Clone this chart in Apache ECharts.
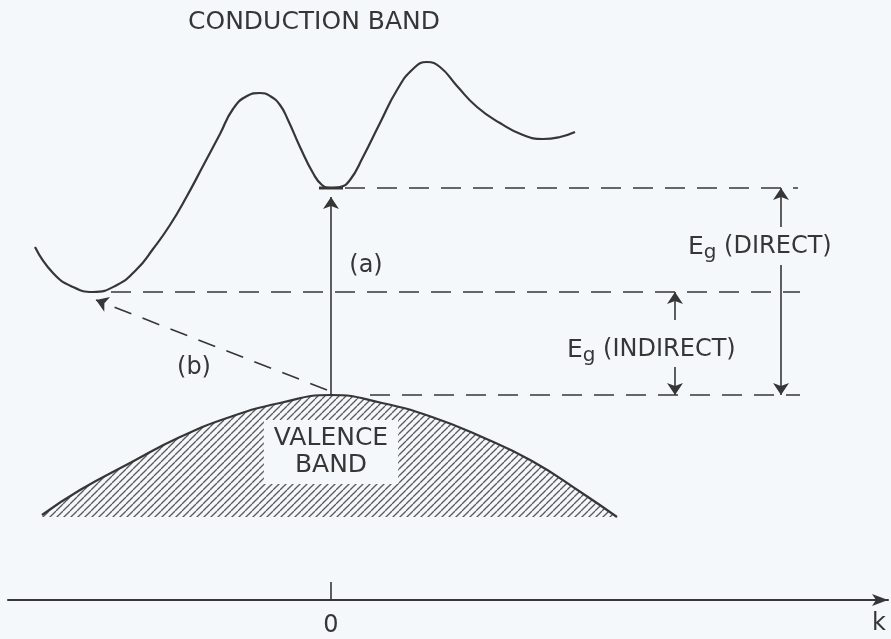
<!DOCTYPE html>
<html>
<head>
<meta charset="utf-8">
<script src="https://cdn.jsdelivr.net/npm/echarts@6/dist/echarts.min.js"></script>
<style>
  html, body { margin: 0; padding: 0; background: #f5f8fa; }
  #chart { width: 891px; height: 639px; }
</style>
</head>
<body>
<div id="chart"></div>
<script>
// Energy band diagram E(k): conduction band, valence band, direct / indirect gaps.

// Conduction band E(k)
const condK = [-2.96, -2.78, -2.58, -2.38, -2.14, -1.94, -1.78, -1.61, -1.44, -1.28, -1.11,
               -0.98, -0.84, -0.71, -0.61, -0.51, -0.43, -0.31, -0.18, -0.09, 0.00, 0.09,
               0.19, 0.32, 0.49, 0.66, 0.82, 0.96, 1.09, 1.26, 1.46, 1.69, 1.92, 2.12,
               2.29, 2.44];
const condE = [1.48, 1.22, 1.08, 1.03, 1.10, 1.26, 1.46, 1.70, 1.99, 2.29, 2.61,
               2.86, 2.99, 3.02, 2.99, 2.90, 2.75, 2.48, 2.22, 2.10, 2.07, 2.08,
               2.15, 2.38, 2.72, 3.05, 3.26, 3.33, 3.28, 3.09, 2.88, 2.72, 2.60, 2.56,
               2.58, 2.63];

// Valence band E(k)
const valK = [-2.89, -2.51, -2.01, -1.51, -1.01, -0.51, 0.00, 0.51, 1.01, 1.51, 2.01, 2.51, 2.86];
const valE = [-1.20, -0.95, -0.68, -0.42, -0.22, -0.08, 0.00, -0.08, -0.22, -0.42, -0.66, -0.98, -1.22];

// Band edges
const E_DIRECT = 2.07;      // conduction minimum at k = 0
const E_INDIRECT = 1.03;    // conduction minimum away from k = 0
const E_VB_TOP = 0.0;       // valence maximum at k = 0
const K_INDIRECT = -2.38;   // k of the indirect minimum

// k-axis ticks
const kTicks = [0];
const kTickLabels = ['0'];

const bg = '#f5f8fa';
const ink = '#363636';
const font = 'DejaVu Sans';

// diagonal hatching for the filled valence band
function hatchTile() {
  const w = 7, h = 7;
  const c = document.createElement('canvas');
  c.width = w; c.height = h;
  const ctx = c.getContext('2d');
  ctx.strokeStyle = '#5a5a5a';
  ctx.lineWidth = 1.3;
  for (const dx of [-w, 0, w]) {
    ctx.beginPath();
    ctx.moveTo(dx, h);
    ctx.lineTo(dx + w, 0);
    ctx.stroke();
  }
  return c;
}

const zip = (a, b) => a.map((v, i) => [v, b[i]]);

function level(name, y, k0, k1) {
  return {
    name, type: 'line', silent: true, symbol: 'none', z: 2,
    data: [[k0, y], [k1, y]],
    lineStyle: { color: ink, width: 1.6, type: [20, 12] }
  };
}

function note(text, k, e, labelExtra) {
  return {
    value: [k, e],
    label: Object.assign({ show: true, formatter: text }, labelExtra || {})
  };
}

const richEg = {
  e: { fontSize: 25, fontFamily: font, color: ink },
  g: { fontSize: 20, fontFamily: font, color: ink, padding: [12, 0, 0, 0] },
  t: { fontSize: 24, fontFamily: font, color: ink }
};

const option = {
  backgroundColor: bg,
  animation: false,
  grid: { left: 8, right: 3, top: 0, bottom: 39, containLabel: false, outerBoundsMode: 'none' },
  xAxis: {
    type: 'value', min: -3.23, max: 5.57,
    name: 'k', nameLocation: 'end', nameGap: -9,
    nameTextStyle: { color: ink, fontFamily: font, fontSize: 24, align: 'center', verticalAlign: 'top', padding: [12, 0, 0, 0] },
    axisLine: { show: true, onZero: false, lineStyle: { color: ink, width: 2 }, symbol: ['none', 'arrow'], symbolSize: [9, 16] },
    axisTick: { show: true, inside: true, length: 18, customValues: kTicks, lineStyle: { color: ink, width: 1.6 } },
    axisLabel: { show: true, customValues: kTicks, margin: 14, color: ink, fontFamily: font, fontSize: 24,
                 formatter: v => kTickLabels[kTicks.indexOf(v)] ?? '' },
    splitLine: { show: false }
  },
  yAxis: { type: 'value', min: -2.05, max: 3.95, show: false },
  series: [
    {
      name: 'Conduction band', type: 'line', smooth: 0.5, symbol: 'none', z: 3,
      data: zip(condK, condE),
      lineStyle: { color: ink, width: 2.2 }
    },
    {
      // small flat bottom of the central valley
      name: 'Direct minimum', type: 'line', symbol: 'none', silent: true, z: 3,
      data: [[-0.12, E_DIRECT], [0.12, E_DIRECT]],
      lineStyle: { color: ink, width: 3 }
    },
    {
      name: 'Valence band', type: 'line', smooth: 0.5, symbol: 'none', z: 3,
      data: zip(valK, valE),
      lineStyle: { color: ink, width: 2.2 },
      areaStyle: { color: { image: hatchTile(), repeat: 'repeat' }, opacity: 1, origin: -1.22 }
    },
    level('Direct gap level', E_DIRECT, 0.14, 4.67),
    level('Indirect gap level', E_INDIRECT, K_INDIRECT + 0.18, 4.69),
    level('Valence top level', E_VB_TOP, 0.39, 4.69),
    {
      name: 'Transitions', type: 'lines', coordinateSystem: 'cartesian2d', z: 4, silent: true,
      symbol: ['none', 'arrow'], symbolSize: [8, 12],
      lineStyle: { color: ink, width: 1.6, opacity: 1 },
      data: [
        { coords: [[0, E_VB_TOP], [0, E_DIRECT - 0.09]] },
        { coords: [[-0.04, E_VB_TOP + 0.05], [K_INDIRECT + 0.03, E_INDIRECT - 0.08]],
          lineStyle: { type: [18, 12] } },
        // gap brackets
        { coords: [[4.50, 1.68], [4.50, E_DIRECT]] },
        { coords: [[4.50, 1.30], [4.50, E_VB_TOP]] },
        { coords: [[3.44, 0.75], [3.44, E_INDIRECT]] },
        { coords: [[3.44, 0.28], [3.44, E_VB_TOP]] }
      ]
    },
    {
      name: 'Labels', type: 'scatter', symbolSize: 0, silent: true, z: 6,
      itemStyle: { opacity: 1 },
      label: { show: true, position: 'inside', color: ink, fontFamily: font, fontSize: 24, opacity: 1 },
      data: [
        note('CONDUCTION BAND', -0.17, 3.73, { fontSize: 25 }),
        note('(a)', 0.35, 1.29),
        note('(b)', -1.37, 0.27),
        note('VALENCE\nBAND', 0.0, -0.57, {
          fontSize: 25, lineHeight: 27, backgroundColor: bg, padding: [5, 10]
        }),
        note('{e|E}{g|g}{t| (DIRECT)}', 3.57, 1.48, { position: 'right', distance: 0, rich: richEg }),
        note('{e|E}{g|g}{t| (INDIRECT)}', 2.36, 0.45, { position: 'right', distance: 0, rich: richEg })
      ]
    }
  ]
};

const chart = echarts.init(document.getElementById('chart'), null, { renderer: 'canvas' });
chart.setOption(option);
</script>
</body>
</html>
